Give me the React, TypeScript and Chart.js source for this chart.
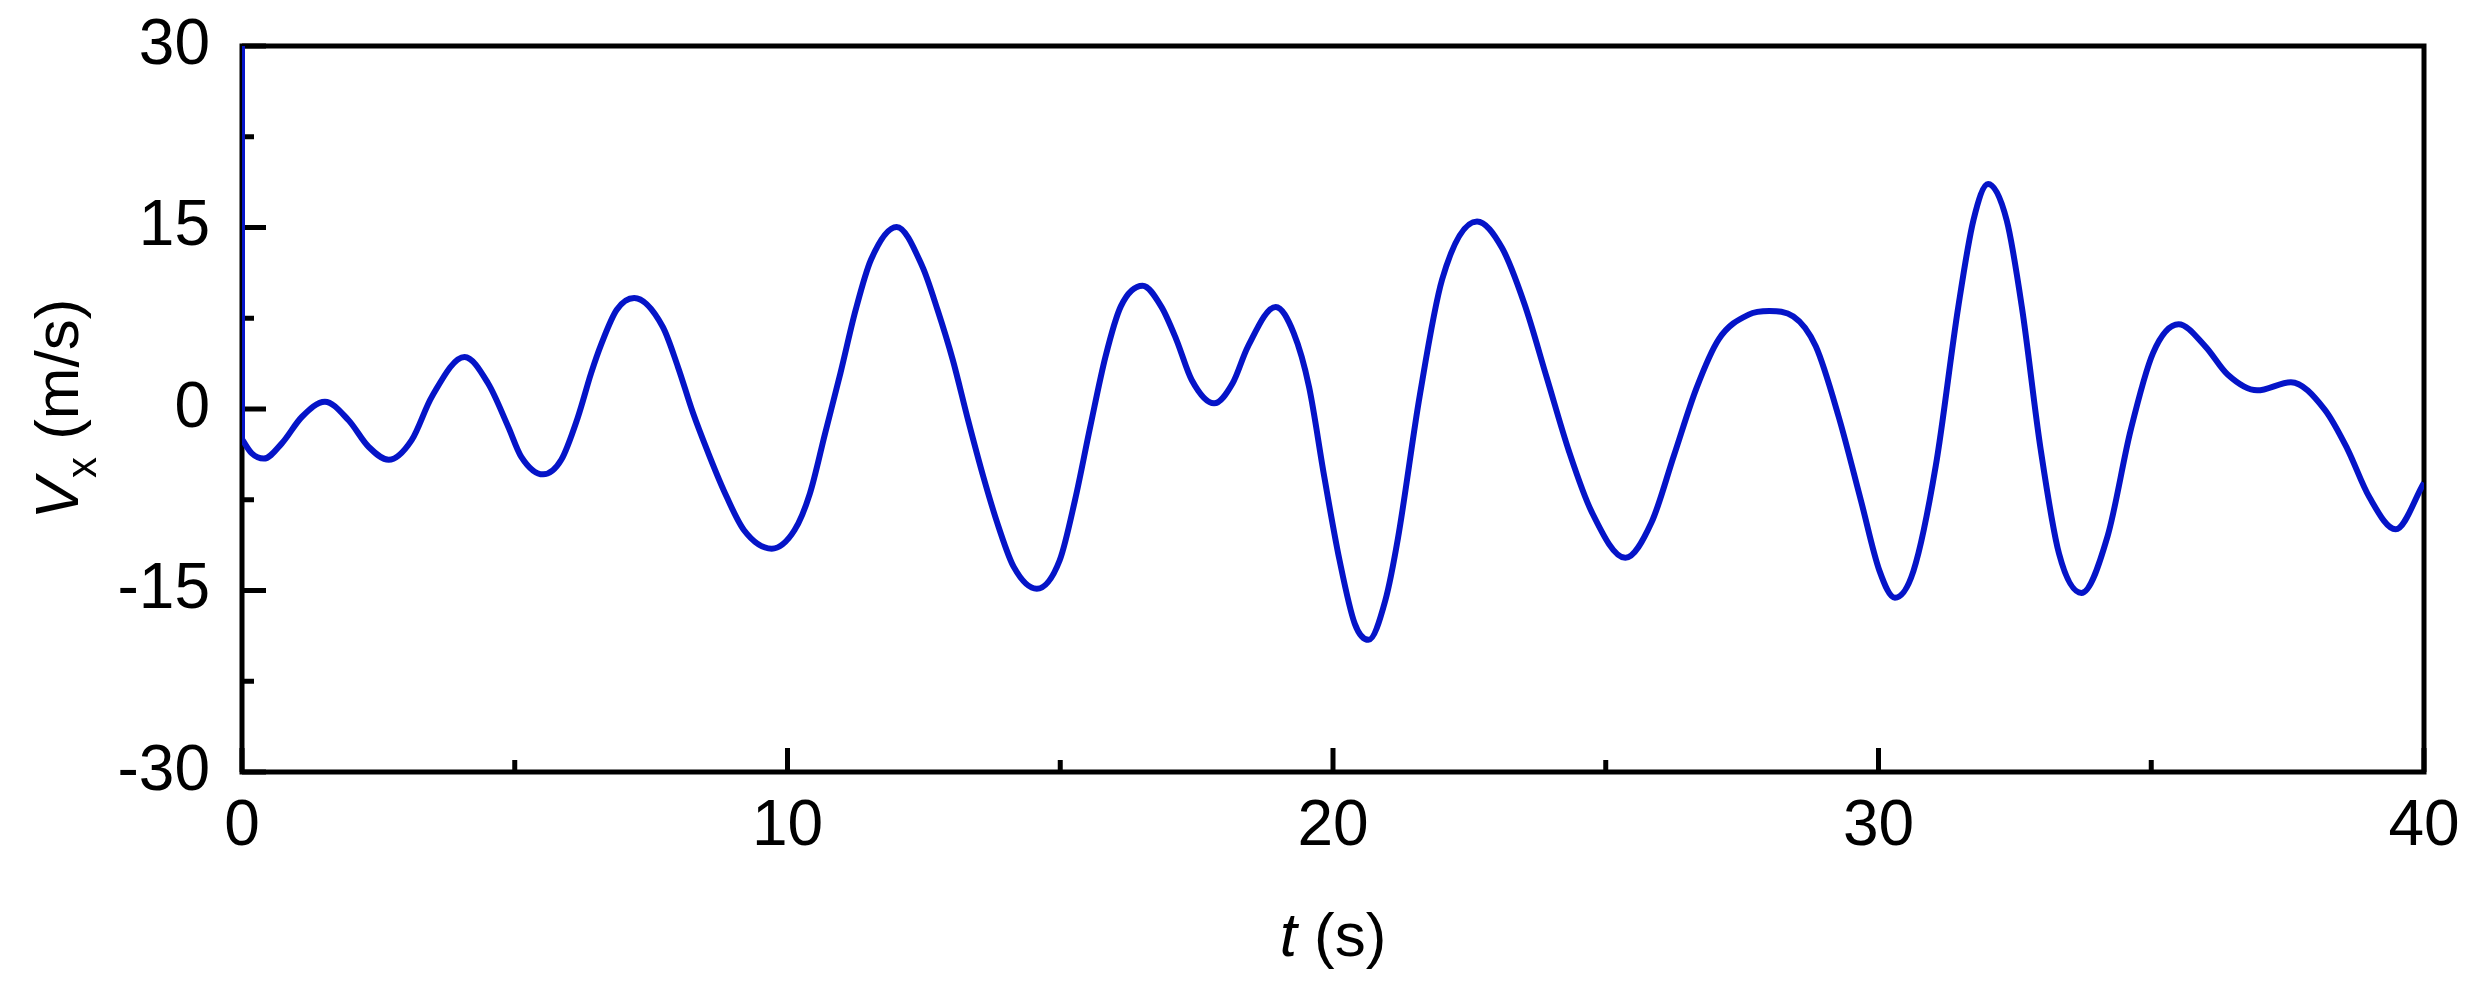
import React, { useEffect, useRef } from "react";
import { Chart, registerables } from "chart.js";

Chart.register(...registerables);

// ---- Data ----
const timeS: number[] = [
  0.0, 0.18, 0.4, 0.73, 1.1, 1.52, 1.95, 2.32, 2.69, 3.11, 3.48, 4.08, 4.51, 4.88, 5.12, 5.52,
  5.85, 6.16, 6.4, 6.59, 6.87, 7.19, 7.71, 7.99, 8.27, 8.55, 8.83, 9.2, 9.71, 10.13, 10.41,
  10.69, 10.97, 11.25, 11.53, 12.0, 12.47, 12.75, 13.03, 13.31, 13.59, 13.87, 14.15, 14.57,
  14.99, 15.27, 15.55, 15.83, 16.11, 16.51, 16.85, 17.13, 17.41, 17.82, 18.16, 18.44, 18.95,
  19.28, 19.56, 19.84, 20.12, 20.4, 20.65, 20.96, 21.19, 21.59, 22.0, 22.64, 23.1, 23.51,
  23.92, 24.33, 24.74, 25.36, 25.84, 26.25, 26.66, 27.07, 27.62, 28.0, 28.44, 28.85, 29.27,
  29.68, 30.02, 30.3, 30.64, 31.05, 31.46, 31.74, 32.01, 32.35, 32.63, 32.97, 33.31, 33.72,
  34.2, 34.62, 35.03, 35.5, 35.99, 36.4, 36.94, 37.56, 38.18, 38.59, 39.0, 39.48, 40.0,
];
const vxMs: number[] = [
  -2.5, -3.67, -4.1, -2.84, -0.64, 0.6, -0.91, -3.12, -4.2, -2.57, 1.02, 4.3, 2.13, -1.46, -3.95, -5.4,
  -4.22, -0.64, 2.96, 5.4, 8.2, 9.17, 6.82, 3.5, -0.36, -3.67, -6.71, -10.0, -11.54, -10.0, -6.99,
  -2.0, 2.96, 8.2, 12.34, 15.05, 11.8, 8.2, 4.06, -0.91, -5.6, -9.75, -13.07, -14.86,
  -12.5, -7.54, -1.46, 4.34, 8.48, 10.19, 8.48, 5.72, 2.4, 0.47, 2.13, 5.16, 8.43,
  6.27, 1.85, -5.6, -12.5, -17.76, -19.08, -15.8, -10.7, 1.1, 10.7, 15.5, 13.3, 8.67,
  2.57, -3.55, -8.48, -12.3, -9.36, -3.84, 1.69, 5.76, 7.8, 8.09, 7.65, 5.18, -0.64,
  -7.6, -13.4, -15.6, -13.4, -4.7, 8.37, 15.6, 18.6, 15.6, 8.37, -3.25, -11.97, -15.2,
  -10.5, -1.8, 4.6, 7.0, 5.18, 2.85, 1.54, 2.21, -0.05, -3.25, -7.3, -9.94, -6.1,
];
// initial vertical jump at t = 0
const spikeT: number[] = [0, 0];
const spikeV: number[] = [30, -2.5];

const yMajorTicks: number[] = [-30, -15, 0, 15, 30];
const yMinorTicks: number[] = [-22.5, -7.5, 7.5, 22.5];
const xMajorTicks: number[] = [0, 10, 20, 30, 40];
const xMinorTicks: number[] = [5, 15, 25, 35];

const FONT = "'Liberation Sans', Arial, Helvetica, sans-serif";
const LINE_COLOR = "rgb(5, 20, 200)";

const framePlugin = {
  id: "frame",
  beforeDatasetsDraw(chart: any) {
    const { ctx, chartArea, scales } = chart;
    const { left, right, top, bottom } = chartArea;
    ctx.save();
    ctx.strokeStyle = "#000";
    ctx.lineWidth = 5;
    ctx.lineCap = "butt";
    ctx.strokeRect(left, top, right - left, bottom - top);
    const major = 24;
    const minor = 12;
    const drawY = (vals: number[], len: number) => {
      vals.forEach((v) => {
        const y = scales.y.getPixelForValue(v);
        ctx.beginPath();
        ctx.moveTo(left, y);
        ctx.lineTo(left + len, y);
        ctx.stroke();
      });
    };
    const drawX = (vals: number[], len: number) => {
      vals.forEach((v) => {
        const x = scales.x.getPixelForValue(v);
        ctx.beginPath();
        ctx.moveTo(x, bottom);
        ctx.lineTo(x, bottom - len);
        ctx.stroke();
      });
    };
    drawY(yMajorTicks, major);
    drawY(yMinorTicks, minor);
    drawX(xMajorTicks, major);
    drawX(xMinorTicks, minor);
    ctx.restore();
  },
  afterDraw(chart: any) {
    const { ctx, chartArea } = chart;
    ctx.save();
    ctx.fillStyle = "#000";
    ctx.textBaseline = "alphabetic";
    ctx.textAlign = "left";
    // x title: "t (s)"
    const big = 62;
    const fItal = `italic ${big}px ${FONT}`;
    const fNorm = `${big}px ${FONT}`;
    const fSub = `${Math.round(big * 0.68)}px ${FONT}`;
    ctx.font = fItal;
    const wT = ctx.measureText("t").width;
    ctx.font = fNorm;
    const wS = ctx.measureText(" (s)").width;
    const cx = (chartArea.left + chartArea.right) / 2;
    const x0 = cx - (wT + wS) / 2;
    const by = 956;
    ctx.font = fItal;
    ctx.fillText("t", x0, by);
    ctx.font = fNorm;
    ctx.fillText(" (s)", x0 + wT, by);

    // y title: "Vx (m/s)" rotated
    ctx.font = fItal;
    const wV = ctx.measureText("V").width;
    ctx.font = fSub;
    const wx = ctx.measureText("x").width;
    ctx.font = fNorm;
    const wU = ctx.measureText(" (m/s)").width;
    const total = wV + wx + wU;
    const cy = (chartArea.top + chartArea.bottom) / 2;
    ctx.translate(78, cy);
    ctx.rotate(-Math.PI / 2);
    let s = -total / 2;
    ctx.font = fItal;
    ctx.fillText("V", s, 0);
    s += wV;
    ctx.font = fSub;
    ctx.fillText("x", s, 18);
    s += wx;
    ctx.font = fNorm;
    ctx.fillText(" (m/s)", s, 0);
    ctx.restore();
  },
};

export default function App() {
  const canvasRef = useRef<HTMLCanvasElement | null>(null);

  useEffect(() => {
    if (!canvasRef.current) return;
    const mainData = timeS.map((t, i) => ({ x: t, y: vxMs[i] }));
    const spikeData = spikeT.map((t, i) => ({ x: t, y: spikeV[i] }));
    const chart = new Chart(canvasRef.current, {
      type: "line",
      data: {
        datasets: [
          {
            label: "Vx",
            data: mainData,
            borderColor: LINE_COLOR,
            borderWidth: 6,
            pointRadius: 0,
            fill: false,
            cubicInterpolationMode: "monotone",
            borderJoinStyle: "round",
          },
          {
            label: "start",
            data: spikeData,
            borderColor: LINE_COLOR,
            borderWidth: 6,
            pointRadius: 0,
            fill: false,
            tension: 0,
          },
        ],
      },
      options: {
        animation: false,
        responsive: true,
        maintainAspectRatio: false,
        layout: { padding: { left: 0, right: 51, top: 46, bottom: 0 } },
        plugins: {
          legend: { display: false },
          tooltip: { enabled: false },
          title: { display: false },
        },
        scales: {
          x: {
            type: "linear",
            min: 0,
            max: 40,
            grid: { display: false, drawTicks: false },
            border: { display: false },
            ticks: {
              stepSize: 10,
              padding: 17,
              color: "#000",
              font: { family: FONT, size: 64 },
              maxRotation: 0,
            },
            afterFit: (scale: any) => {
              scale.height = 220;
              scale.paddingLeft = 0;
              scale.paddingRight = 0;
            },
          },
          y: {
            type: "linear",
            min: -30,
            max: 30,
            grid: { display: false, drawTicks: false },
            border: { display: false },
            ticks: {
              stepSize: 15,
              padding: 32,
              color: "#000",
              font: { family: FONT, size: 64 },
            },
            afterFit: (scale: any) => {
              scale.width = 242;
              scale.paddingTop = 0;
              scale.paddingBottom = 0;
            },
          },
        },
      },
      plugins: [framePlugin],
    });
    return () => chart.destroy();
  }, []);

  return (
    <div
      style={{
        position: "fixed",
        left: 0,
        top: 0,
        width: "2475px",
        height: "992px",
        background: "#fff",
      }}
    >
      <canvas ref={canvasRef} />
    </div>
  );
}
